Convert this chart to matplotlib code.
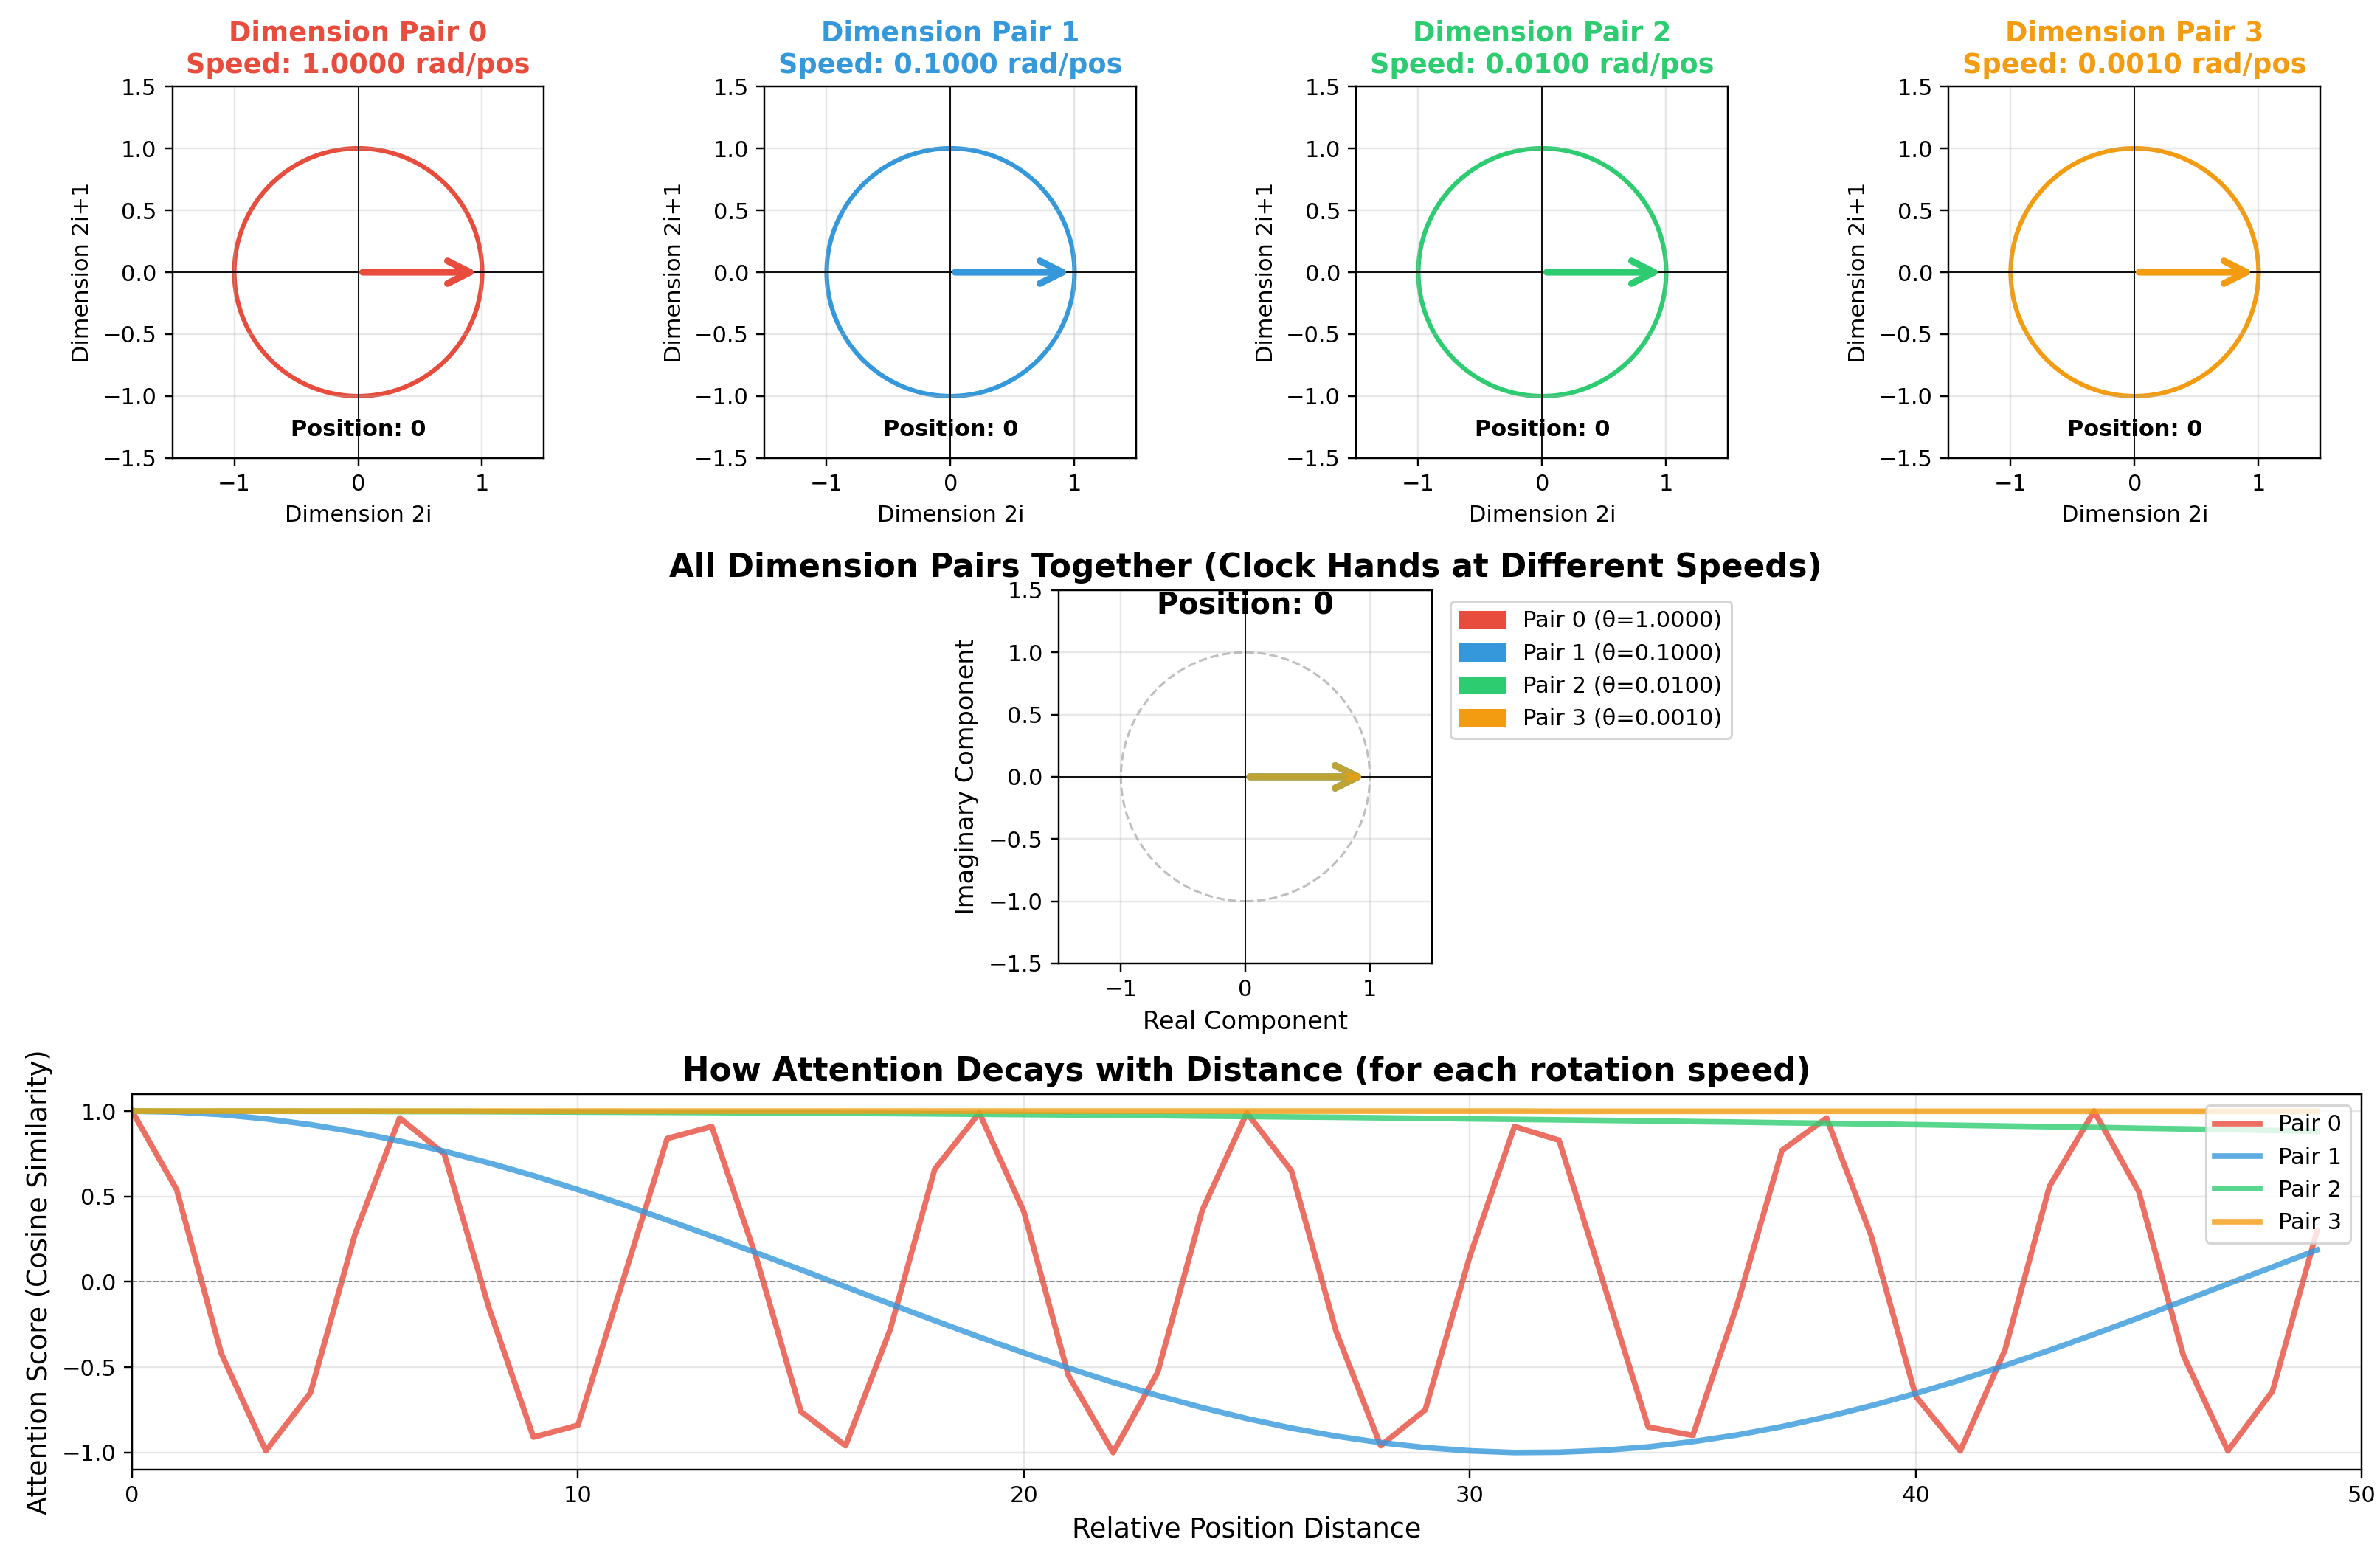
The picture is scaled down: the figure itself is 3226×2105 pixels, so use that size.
import numpy as np
import matplotlib.pyplot as plt
import matplotlib.patches as mpatches

# 数据
pair_names = ['Pair 0', 'Pair 1', 'Pair 2', 'Pair 3']
thetas = [1.0, 0.1, 0.01, 0.001]  # 每对维度的旋转速度 rad/pos
position = 0
colors = ['#e74c3c', '#3498db', '#2ecc71', '#f39c12']

distances = list(range(50))
score_pair0 = [1.00, 0.54, -0.42, -0.99, -0.65, 0.28, 0.96, 0.75, -0.15, -0.91,
               -0.84, 0.00, 0.84, 0.91, 0.14, -0.76, -0.96, -0.28, 0.66, 0.99,
               0.41, -0.55, -1.00, -0.53, 0.42, 0.99, 0.65, -0.29, -0.96, -0.75,
               0.15, 0.91, 0.83, -0.01, -0.85, -0.90, -0.13, 0.77, 0.96, 0.27,
               -0.67, -0.99, -0.40, 0.56, 1.00, 0.53, -0.43, -0.99, -0.64, 0.30]
score_pair1 = [1.000, 0.995, 0.980, 0.955, 0.921, 0.878, 0.825, 0.765, 0.697, 0.622,
               0.540, 0.454, 0.362, 0.267, 0.170, 0.071, -0.029, -0.129, -0.227, -0.323,
               -0.416, -0.505, -0.589, -0.666, -0.737, -0.801, -0.857, -0.904, -0.942, -0.971,
               -0.990, -1.000, -0.998, -0.987, -0.967, -0.936, -0.897, -0.848, -0.791, -0.726,
               -0.654, -0.575, -0.490, -0.401, -0.307, -0.211, -0.112, -0.012, 0.087, 0.187]
score_pair2 = [1.000, 1.000, 1.000, 1.000, 0.999, 0.999, 0.998, 0.998, 0.997, 0.996,
               0.995, 0.994, 0.993, 0.992, 0.990, 0.989, 0.987, 0.986, 0.984, 0.982,
               0.980, 0.978, 0.976, 0.974, 0.971, 0.969, 0.966, 0.964, 0.961, 0.958,
               0.955, 0.952, 0.949, 0.946, 0.943, 0.939, 0.936, 0.932, 0.929, 0.925,
               0.921, 0.917, 0.913, 0.909, 0.905, 0.900, 0.896, 0.892, 0.887, 0.882]
score_pair3 = [1.000] * 32 + [0.999] * 18
scores = [score_pair0, score_pair1, score_pair2, score_pair3]

fig = plt.figure(figsize=(3226 / 220, 2105 / 220), dpi=220)

# 上面一排：每个维度对单独的时钟
top_lefts = [0.0713, 0.3202, 0.5688, 0.8177]
for i in range(4):
    ax = fig.add_axes([top_lefts[i], 0.705, 0.1584, 0.2394])
    ang = thetas[i] * position
    circle = plt.Circle((0, 0), 1, fill=False, color=colors[i], linewidth=2)
    ax.add_patch(circle)
    ax.annotate('', xy=(np.cos(ang), np.sin(ang)), xytext=(0, 0),
                arrowprops=dict(arrowstyle='->', color=colors[i], lw=3, mutation_scale=25))
    ax.axhline(0, color='k', linewidth=0.6)
    ax.axvline(0, color='k', linewidth=0.6)
    ax.set_xlim(-1.5, 1.5)
    ax.set_ylim(-1.5, 1.5)
    ax.set_aspect('equal')
    ax.set_xticks([-1, 0, 1])
    ax.set_yticks([-1.5, -1.0, -0.5, 0.0, 0.5, 1.0, 1.5])
    ax.grid(True, alpha=0.3)
    ax.set_title('Dimension Pair %d\nSpeed: %.4f rad/pos' % (i, thetas[i]),
                 color=colors[i], fontsize=12, fontweight='bold', pad=6)
    ax.set_xlabel('Dimension 2i', fontsize=10)
    ax.set_ylabel('Dimension 2i+1', fontsize=10)
    ax.text(0, -1.27, 'Position: %d' % position, ha='center', va='center',
            fontsize=10, fontweight='bold')

# 中间：所有维度对放在一起
ax = fig.add_axes([0.4445, 0.3796, 0.1575, 0.2404])
ax.add_patch(plt.Circle((0, 0), 1, fill=False, color='gray', linestyle='--',
                        linewidth=1, alpha=0.5))
for i in range(4):
    ang = thetas[i] * position
    ax.annotate('', xy=(np.cos(ang), np.sin(ang)), xytext=(0, 0),
                arrowprops=dict(arrowstyle='->', color=colors[i], lw=3, alpha=0.7,
                                mutation_scale=25))
ax.axhline(0, color='k', linewidth=0.6)
ax.axvline(0, color='k', linewidth=0.6)
ax.set_xlim(-1.5, 1.5)
ax.set_ylim(-1.5, 1.5)
ax.set_aspect('equal')
ax.set_xticks([-1, 0, 1])
ax.set_yticks([-1.5, -1.0, -0.5, 0.0, 0.5, 1.0, 1.5])
ax.grid(True, alpha=0.3)
ax.set_title('All Dimension Pairs Together (Clock Hands at Different Speeds)',
             fontsize=14.3, fontweight='bold', pad=6)
ax.text(0, 1.38, 'Position: %d' % position, ha='center', va='center',
        fontsize=13, fontweight='bold')
ax.set_xlabel('Real Component', fontsize=11)
ax.set_ylabel('Imaginary Component', fontsize=11)
handles = [mpatches.Patch(color=colors[i], label='%s (θ=%.4f)' % (pair_names[i], thetas[i]))
           for i in range(4)]
ax.legend(handles=handles, loc='upper left', bbox_to_anchor=(1.02, 1), fontsize=10)

# 下面：注意力随距离的衰减
ax = fig.add_axes([0.0555, 0.0537, 0.9368, 0.2418])
for i in range(4):
    ax.plot(distances, scores[i], color=colors[i], linewidth=2.5, alpha=0.8,
            label=pair_names[i])
ax.axhline(0, color='gray', linestyle='--', linewidth=0.6)
ax.set_xlim(0, 50)
ax.set_xlabel('Relative Position Distance', fontsize=12)
ax.set_ylabel('Attention Score (Cosine Similarity)', fontsize=12)
ax.set_title('How Attention Decays with Distance (for each rotation speed)',
             fontsize=14.3, fontweight='bold')
ax.legend(loc='upper right', fontsize=10)
ax.grid(True, alpha=0.3)

fig.savefig('out.png', dpi=220)
